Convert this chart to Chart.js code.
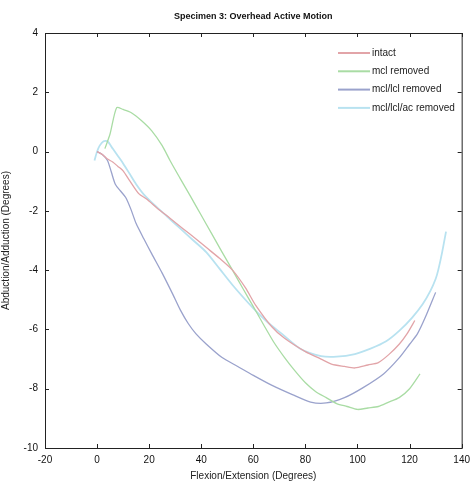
<!DOCTYPE html>
<html>
<head>
<meta charset="utf-8">
<script src="https://cdn.jsdelivr.net/npm/chart.js@4.4.1/dist/chart.umd.min.js"></script>
<style>
  html, body { margin: 0; padding: 0; background: #fff; }
  #wrap { width: 476px; height: 482px; position: relative; }
</style>
</head>
<body>
<div id="wrap"><canvas id="motionChart"></canvas></div>
<script>
// Specimen 3 curves (flexion x, abduction y)
const intactX = [0, 2, 4, 6, 8, 10, 12.5, 16, 19, 23, 28, 33, 38, 42, 47, 52, 57, 61, 67, 72, 80, 86, 90, 95, 99, 104, 108, 112, 116, 119, 122];
const intactY = [0, -0.1, -0.25, -0.35, -0.5, -0.65, -0.98, -1.42, -1.6, -1.9, -2.25, -2.6, -2.95, -3.24, -3.6, -4.0, -4.6, -5.2, -5.9, -6.3, -6.75, -7.0, -7.17, -7.25, -7.3, -7.2, -7.12, -6.85, -6.5, -6.15, -5.7];

const mclX = [3, 5, 7.5, 10, 13, 17, 21, 25, 28, 32, 36, 40, 44, 48, 52, 56, 60, 64, 68, 72, 76, 80, 84, 88, 92, 96, 100, 104, 108, 112, 116, 120, 124];
const mclY = [0.1, 0.6, 1.48, 1.42, 1.32, 1.05, 0.7, 0.2, -0.3, -0.92, -1.53, -2.15, -2.77, -3.39, -4.0, -4.62, -5.23, -5.85, -6.45, -6.95, -7.4, -7.8, -8.1, -8.3, -8.5, -8.6, -8.7, -8.65, -8.6, -8.45, -8.3, -8.0, -7.5];

const mclLclX = [0, 2, 4, 5.5, 7, 9, 11, 13, 15, 18, 21, 25, 29, 32, 35, 38, 42, 48, 54, 60, 67, 75, 82, 88, 95, 102, 110, 116, 120, 123, 126, 130];
const mclLclY = [0, -0.1, -0.3, -0.7, -1.1, -1.33, -1.55, -1.95, -2.43, -2.95, -3.45, -4.1, -4.8, -5.35, -5.8, -6.15, -6.5, -6.95, -7.25, -7.55, -7.88, -8.2, -8.45, -8.48, -8.3, -7.97, -7.5, -6.96, -6.5, -6.15, -5.6, -4.75];

const mclLclAcX = [-1, 0, 1, 2.5, 4, 6, 8, 10, 12.5, 15, 18, 22, 27, 32, 37, 42, 47, 52, 58, 62, 66, 71, 78, 86, 92, 99, 105, 111, 116, 121, 125, 128, 130, 131, 132.5, 134];
const mclLclAcY = [-0.3, 0, 0.2, 0.35, 0.35, 0.1, -0.15, -0.4, -0.75, -1.1, -1.45, -1.8, -2.2, -2.6, -3.0, -3.4, -3.95, -4.5, -5.1, -5.47, -5.8, -6.15, -6.65, -6.9, -6.92, -6.83, -6.65, -6.4, -6.05, -5.6, -5.15, -4.7, -4.3, -4.0, -3.4, -2.7];

const seriesLabels = ["intact", "mcl removed", "mcl/lcl removed", "mcl/lcl/ac removed"];
const xTicks = [-20, 0, 20, 40, 60, 80, 100, 120, 140];
const yTicks = [-10, -8, -6, -4, -2, 0, 2, 4];

function toPoints(xs, ys) {
  return xs.map((x, i) => ({ x: x, y: ys[i] }));
}

const FONT = "'Liberation Sans', Arial, sans-serif";

// frame, inward ticks, title and legend drawn MATLAB-style
const matlabFrame = {
  id: "matlabFrame",
  afterDraw(chart) {
    const c = chart.ctx;
    const a = chart.chartArea;
    const xs = chart.scales.x;
    const ys = chart.scales.y;
    c.save();
    c.strokeStyle = "#222";
    c.lineWidth = 1;
    c.strokeRect(a.left + 0.5, a.top + 0.5, a.right - a.left, a.bottom - a.top);
    c.beginPath();
    xTicks.forEach((v) => {
      const px = Math.round(xs.getPixelForValue(v)) + 0.5;
      c.moveTo(px, a.bottom); c.lineTo(px, a.bottom - 4);
      c.moveTo(px, a.top); c.lineTo(px, a.top + 4);
    });
    yTicks.forEach((v) => {
      const py = Math.round(ys.getPixelForValue(v)) + 0.5;
      c.moveTo(a.left, py); c.lineTo(a.left + 4, py);
      c.moveTo(a.right, py); c.lineTo(a.right - 4, py);
    });
    c.stroke();

    // title
    c.fillStyle = "#111";
    c.font = "bold 9px " + FONT;
    c.textAlign = "center";
    c.textBaseline = "middle";
    c.fillText("Specimen 3: Overhead Active Motion", (a.left + a.right) / 2, 17);

    // legend
    c.font = "10px " + FONT;
    c.textAlign = "left";
    chart.data.datasets.forEach((ds, i) => {
      const y = 53 + i * 18.3;
      c.strokeStyle = ds.borderColor;
      c.lineWidth = 2;
      c.beginPath();
      c.moveTo(338, y); c.lineTo(370, y);
      c.stroke();
      c.fillStyle = "#222";
      c.fillText(ds.label, 372, y);
    });
    c.restore();
  },
};

const ctx = document.getElementById("motionChart").getContext("2d");
const motionChart = new Chart(ctx, {
  type: "scatter",
  data: {
    datasets: [
      {
        label: seriesLabels[0],
        data: toPoints(intactX, intactY),
        borderColor: "#e2a4a8",
        borderWidth: 1.3,
      },
      {
        label: seriesLabels[1],
        data: toPoints(mclX, mclY),
        borderColor: "#a9dca4",
        borderWidth: 1.3,
      },
      {
        label: seriesLabels[2],
        data: toPoints(mclLclX, mclLclY),
        borderColor: "#9aa2cc",
        borderWidth: 1.3,
      },
      {
        label: seriesLabels[3],
        data: toPoints(mclLclAcX, mclLclAcY),
        borderColor: "#b8e2f0",
        borderWidth: 1.8,
      },
    ],
  },
  options: {
    responsive: true,
    maintainAspectRatio: false,
    animation: false,
    showLine: true,
    elements: {
      point: { radius: 0 },
      line: { tension: 0.25 },
    },
    layout: {
      padding: { top: 33, right: 10, left: 0, bottom: 0 },
    },
    plugins: {
      legend: { display: false },
      tooltip: { enabled: false },
    },
    scales: {
      x: {
        type: "linear",
        min: -20,
        max: 140,
        afterBuildTicks: (s) => { s.ticks = xTicks.map((v) => ({ value: v })); },
        afterFit: (s) => { s.height = 34; },
        grid: { drawOnChartArea: false, drawTicks: false },
        border: { display: false },
        ticks: {
          color: "#111",
          padding: 6,
          font: { family: FONT, size: 10 },
        },
        title: {
          display: true,
          text: "Flexion/Extension (Degrees)",
          color: "#222",
          font: { family: FONT, size: 10 },
          padding: { top: 0, bottom: 0 },
        },
      },
      y: {
        type: "linear",
        min: -10,
        max: 4,
        afterBuildTicks: (s) => { s.ticks = yTicks.map((v) => ({ value: v })); },
        afterFit: (s) => { s.width = 45; },
        grid: { drawOnChartArea: false, drawTicks: false },
        border: { display: false },
        ticks: {
          color: "#111",
          padding: 7,
          font: { family: FONT, size: 10 },
        },
        title: {
          display: true,
          text: "Abduction/Adduction (Degrees)",
          color: "#222",
          font: { family: FONT, size: 10 },
          padding: { top: 0, bottom: 0 },
        },
      },
    },
  },
  plugins: [matlabFrame],
});
</script>
</body>
</html>
